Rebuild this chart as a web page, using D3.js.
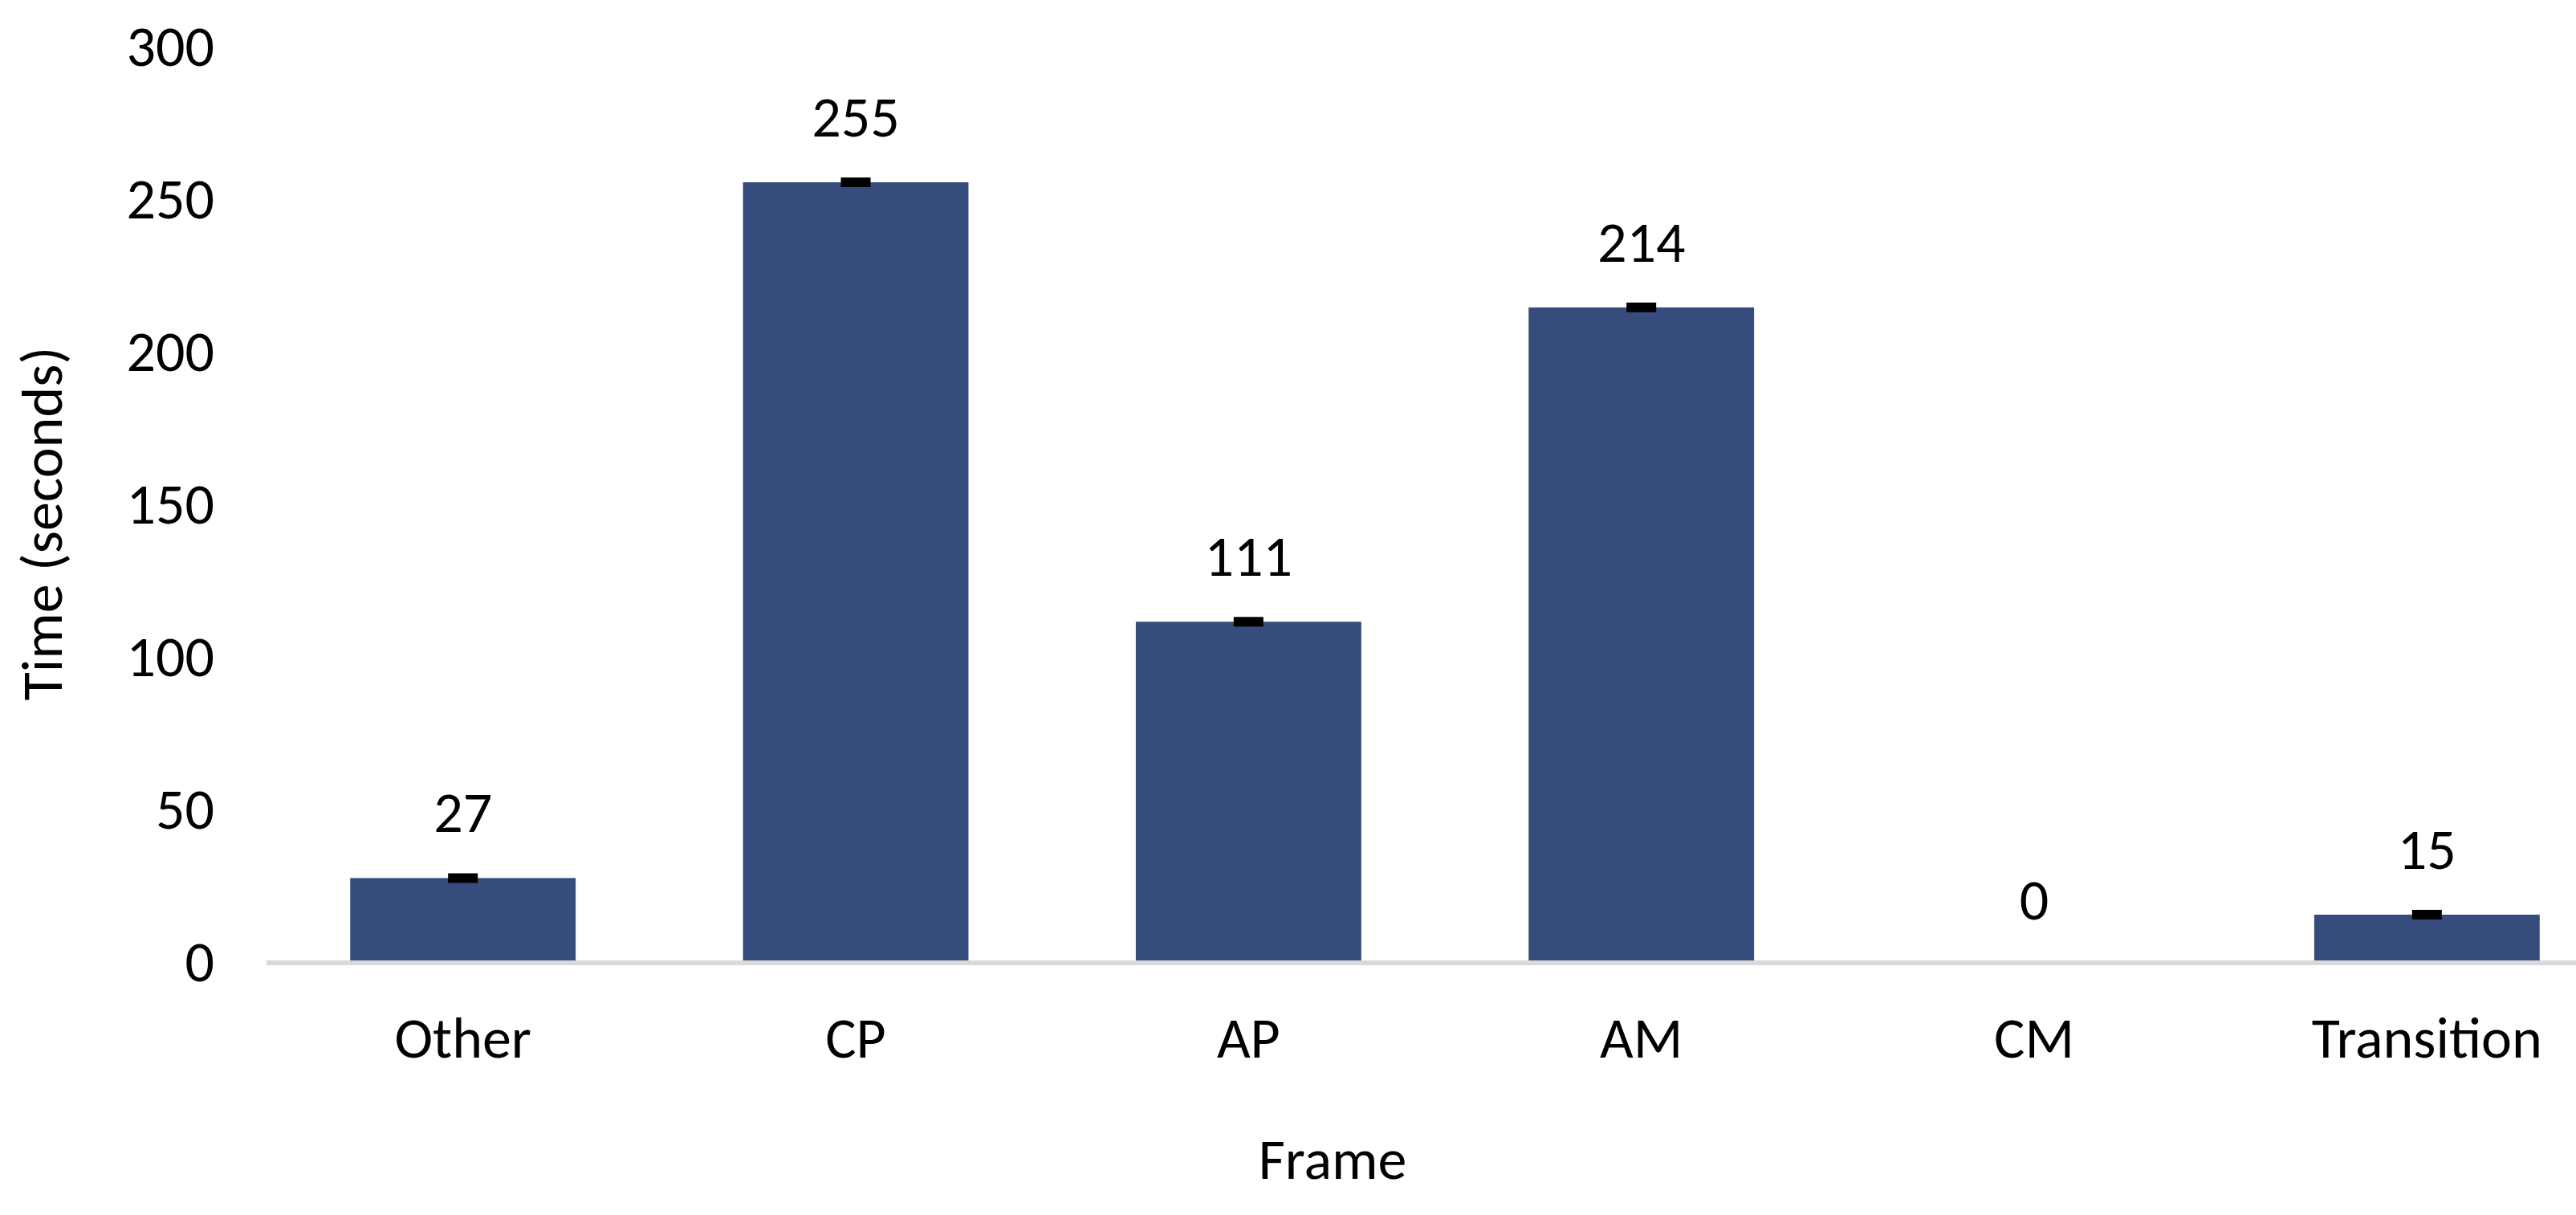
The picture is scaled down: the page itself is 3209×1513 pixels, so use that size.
<!DOCTYPE html>
<html>
<head>
<meta charset="utf-8">
<script src="https://cdn.jsdelivr.net/npm/d3@7"></script>
<style>
	html, body { margin: 0; padding: 0; background: #fff; }
	svg { display: block; }
	text { font-family: Carlito, Calibri, Lato, sans-serif; font-size: 72px; fill: #000; }
</style>
</head>
<body>
<div id="chart"></div>
<script>
// chart values
var frames = ["Other", "CP", "AP", "AM", "CM", "Transition"];
var times = [27, 255, 111, 214, 0, 15];
var yTicks = [0, 50, 100, 150, 200, 250, 300];

var svgWidth = 3209;
var svgHeight = 1513;

var svg = d3.select("#chart")
	.append("svg")
	.attr("width", svgWidth)
	.attr("height", svgHeight);

var xScale = d3.scaleBand()
	.domain(frames)
	.range([332, 3268])
	.paddingInner(0.426)
	.paddingOuter(0.213);

var yScale = d3.scaleLinear()
	.domain([0, 300])
	.range([1196, 56]);

var barColor = "#354c7c";
var y0 = yScale(0);

// y axis labels only (no line, no ticks)
var yAxis = svg.append("g")
	.attr("class", "axis axis--y")
	.attr("transform", "translate(267,0)")
	.call(d3.axisLeft(yScale).tickValues(yTicks).tickSize(0).tickPadding(0));
yAxis.select(".domain").remove();
yAxis.selectAll("text")
	.attr("font-size", null)
	.attr("font-family", null)
	.attr("dy", "0.36em")
	.attr("x", 0);

// bars
svg.append("g").selectAll("rect")
	.data(frames)
	.enter().append("rect")
	.attr("x", function(d) { return xScale(d); })
	.attr("y", function(d, i) { return yScale(times[i]); })
	.attr("width", xScale.bandwidth())
	.attr("height", function(d, i) { return y0 - yScale(times[i]); })
	.style("fill", barColor);

// horizontal category axis line
svg.append("line")
	.attr("x1", xScale.range()[0])
	.attr("x2", svgWidth)
	.attr("y1", y0 + 3)
	.attr("y2", y0 + 3)
	.style("stroke", "#d9d9d9")
	.style("stroke-width", 6);

// category labels
var xAxis = svg.append("g")
	.attr("class", "axis axis--x")
	.attr("transform", "translate(0," + y0 + ")")
	.call(d3.axisBottom(xScale).tickSize(0).tickPadding(0));
xAxis.select(".domain").remove();
xAxis.selectAll("text")
	.attr("font-size", null)
	.attr("font-family", null)
	.attr("dy", null)
	.attr("y", 121);

// error bar caps
svg.append("g").selectAll("line")
	.data(frames.filter(function(d, i) { return times[i] > 0; }))
	.enter().append("line")
	.attr("x1", function(d) { return xScale(d) + xScale.bandwidth() / 2 - 18.5; })
	.attr("x2", function(d) { return xScale(d) + xScale.bandwidth() / 2 + 18.5; })
	.attr("y1", function(d) { return yScale(times[frames.indexOf(d)]); })
	.attr("y2", function(d) { return yScale(times[frames.indexOf(d)]); })
	.style("stroke", "#000")
	.style("stroke-width", 12);

// value labels
svg.append("g").selectAll("text")
	.data(frames)
	.enter().append("text")
	.attr("x", function(d) { return xScale(d) + xScale.bandwidth() / 2; })
	.attr("y", function(d, i) { return yScale(times[i]) - (times[i] > 0 ? 57 : 51); })
	.style("text-anchor", "middle")
	.text(function(d, i) { return times[i]; });

// axis titles
svg.append("text")
	.attr("x", 1660)
	.attr("y", 1468)
	.style("text-anchor", "middle")
	.text("Frame");

svg.append("text")
	.attr("transform", "translate(77,652) rotate(-90)")
	.style("text-anchor", "middle")
	.text("Time (seconds)");
</script>
</body>
</html>
